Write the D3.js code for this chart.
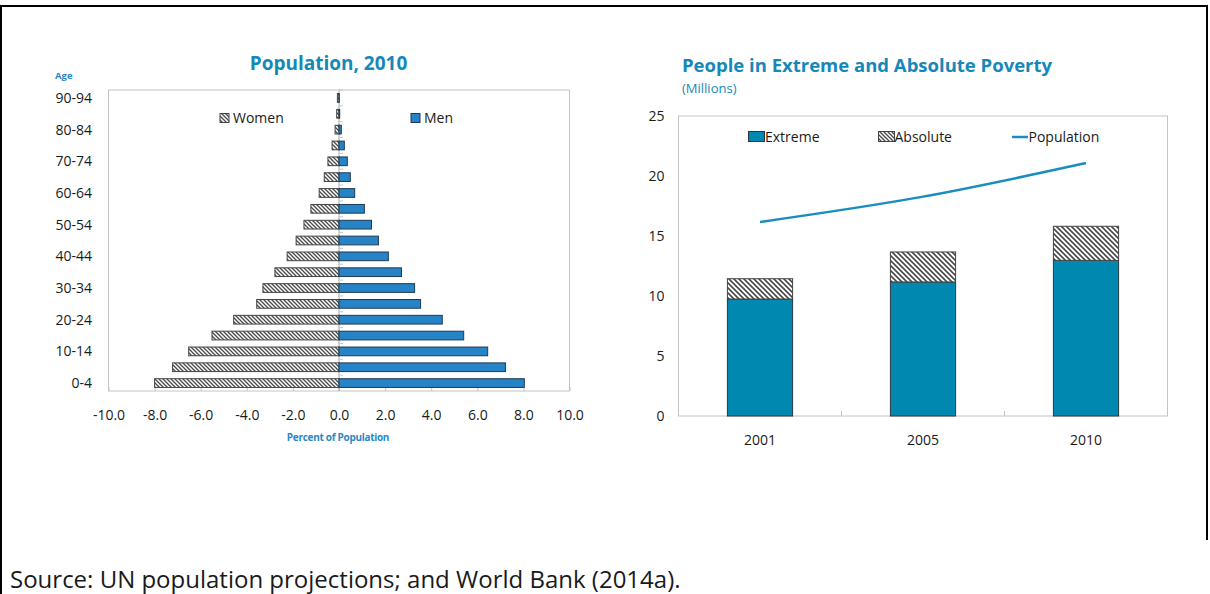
<!DOCTYPE html>
<html>
<head>
<meta charset="utf-8">
<script src="https://cdn.jsdelivr.net/npm/d3@7"></script>
<style>
  html, body { margin: 0; padding: 0; background: #fff; }
  svg { display: block; font-family: "Open Sans", "Noto Sans", sans-serif; }
</style>
</head>
<body>
<svg id="chart" width="1210" height="594"></svg>
<script>
// ---------- Data ----------
const ageGroups = ["0-4","5-9","10-14","15-19","20-24","25-29","30-34","35-39","40-44","45-49",
                   "50-54","55-59","60-64","65-69","70-74","75-79","80-84","85-89","90-94"];
const womenPct = [-8.0,-7.22,-6.52,-5.51,-4.57,-3.57,-3.30,-2.78,-2.25,-1.86,
                  -1.52,-1.22,-0.86,-0.64,-0.48,-0.30,-0.17,-0.10,-0.07];
const menPct   = [8.04,7.22,6.45,5.41,4.48,3.54,3.28,2.71,2.14,1.71,
                  1.41,1.10,0.68,0.49,0.36,0.23,0.10,0.03,0.01];
const ageTickLabels = ["0-4","10-14","20-24","30-34","40-44","50-54","60-64","70-74","80-84","90-94"];
const pctTicks = [-10,-8,-6,-4,-2,0,2,4,6,8,10];

const years = ["2001","2005","2010"];
const extremePoor = [9.75, 11.17, 12.97];
const absolutePoor = [1.69, 2.50, 2.84];   // stacked on top of extreme
const population = [16.17, 18.28, 21.08];
const povTicks = [0,5,10,15,20,25];

// ---------- Styles ----------
const titleBlue = "#1688b8";
const labelBlue = "#2a88c8";
const menBlue = "#2683c6";
const extremeTeal = "#0088b0";
const lineBlue = "#1a8cc0";
const borderGray = "#c4c4c4";
const textCol = "#1a1a1a";

const svg = d3.select("#chart");

// patterns
const defs = svg.append("defs");
function hatch(id, size, sw) {
  const p = defs.append("pattern").attr("id", id).attr("patternUnits", "userSpaceOnUse")
    .attr("width", size).attr("height", size);
  p.append("rect").attr("width", size).attr("height", size).attr("fill", "#fff");
  p.append("path")
    .attr("d", `M0,0 L${size},${size} M${-size/2},${size/2} L${size/2},${size*1.5} M${size/2},${-size/2} L${size*1.5},${size/2}`)
    .attr("stroke", "#4a4a4a").attr("stroke-width", sw);
}
hatch("hatchW", 4, 1.3);
hatch("hatchA", 5, 1.6);

// outer frame
svg.append("path").attr("d", "M1,594 L1,6 L1207,6 L1207,540")
  .attr("fill", "none").attr("stroke", "#000").attr("stroke-width", 2);

// ================= LEFT: Population pyramid =================
const L = { x0: 108.5, x1: 569.5, y0: 90, y1: 391 };
const x = d3.scaleLinear().domain([-10, 10]).range([L.x0, L.x1]);
const y = d3.scaleBand().domain(ageGroups).range([L.y1, L.y0]).paddingInner(0.45).paddingOuter(0.225);
const yStep = d3.scaleBand().domain(ageGroups).range([L.y1, L.y0]);

const gL = svg.append("g");
gL.append("rect").attr("x", L.x0).attr("y", L.y0).attr("width", L.x1 - L.x0).attr("height", L.y1 - L.y0)
  .attr("fill", "none").attr("stroke", borderGray).attr("stroke-width", 1);

// bottom axis ticks (inside, upward)
const xAxis = d3.axisBottom(x).tickValues(pctTicks).tickSize(-4).tickPadding(19)
  .tickFormat(d => d.toFixed(1));
const xa = gL.append("g").attr("transform", `translate(0,${L.y1})`).call(xAxis);
xa.select(".domain").remove();
xa.selectAll(".tick line").attr("stroke", borderGray);
xa.selectAll(".tick text").attr("font-size", 14).attr("fill", textCol).attr("font-family", "Open Sans");

// vertical zero axis with small ticks to the right
gL.append("line").attr("x1", x(0)).attr("x2", x(0)).attr("y1", L.y0).attr("y2", L.y1)
  .attr("stroke", "#a8a8a8").attr("stroke-width", 1);
const bounds = ageGroups.map(a => yStep(a));
gL.selectAll("line.zt").data(bounds).join("line").attr("class", "zt")
  .attr("x1", x(0)).attr("x2", x(0) + 4).attr("y1", d => d).attr("y2", d => d)
  .attr("stroke", "#c8c8c8");

// bars
gL.selectAll("rect.w").data(ageGroups).join("rect").attr("class", "w")
  .attr("x", (d, i) => x(womenPct[i])).attr("width", (d, i) => x(0) - x(womenPct[i]))
  .attr("y", d => y(d)).attr("height", y.bandwidth())
  .attr("fill", "url(#hatchW)").attr("stroke", "#444").attr("stroke-width", 1);
gL.selectAll("rect.m").data(ageGroups).join("rect").attr("class", "m")
  .attr("x", x(0)).attr("width", (d, i) => x(menPct[i]) - x(0))
  .attr("y", d => y(d)).attr("height", y.bandwidth())
  .attr("fill", menBlue).attr("stroke", "#1f3a55").attr("stroke-width", 1);

// age labels
gL.selectAll("text.age").data(ageTickLabels).join("text").attr("class", "age")
  .attr("x", 92).attr("y", d => y(d) + y.bandwidth() / 2).attr("dy", "0.35em")
  .attr("text-anchor", "end").attr("font-size", 14).attr("fill", textCol).text(d => d);

// titles
gL.append("text").attr("x", 328.5).attr("y", 70).attr("text-anchor", "middle")
  .attr("font-size", 19).attr("font-weight", "bold").attr("fill", titleBlue).text("Population, 2010");
gL.append("text").attr("x", 55).attr("y", 79).attr("font-size", 9.5).attr("font-weight", "bold")
  .attr("fill", labelBlue).text("Age");
gL.append("text").attr("x", 338).attr("y", 440.5).attr("text-anchor", "middle").attr("font-size", 10)
  .attr("font-weight", "bold").attr("fill", labelBlue).attr("letter-spacing", -0.3).text("Percent of Population");

// legend
const legL = gL.append("g");
legL.append("rect").attr("x", 220).attr("y", 113.5).attr("width", 9).attr("height", 9)
  .attr("fill", "url(#hatchW)").attr("stroke", "#444");
legL.append("text").attr("x", 233).attr("y", 118).attr("dy", "0.35em").attr("font-size", 14)
  .attr("fill", textCol).text("Women");
legL.append("rect").attr("x", 411).attr("y", 113.5).attr("width", 9).attr("height", 9)
  .attr("fill", menBlue).attr("stroke", "#1f3a55");
legL.append("text").attr("x", 424).attr("y", 118).attr("dy", "0.35em").attr("font-size", 14)
  .attr("fill", textCol).text("Men");

// ================= RIGHT: Poverty =================
const R = { x0: 678.5, x1: 1167.5, y0: 116, y1: 416 };
const xb = d3.scaleBand().domain(years).range([R.x0, R.x1]).paddingInner(0.6).paddingOuter(0.3);
const xStep = d3.scaleBand().domain(years).range([R.x0, R.x1]);
const yr = d3.scaleLinear().domain([0, 25]).range([R.y1, R.y0]);

const gR = svg.append("g");
gR.append("rect").attr("x", R.x0).attr("y", R.y0).attr("width", R.x1 - R.x0).attr("height", R.y1 - R.y0)
  .attr("fill", "none").attr("stroke", borderGray).attr("stroke-width", 1);

// y axis labels
const ya = gR.append("g").attr("transform", `translate(${R.x0},0)`)
  .call(d3.axisLeft(yr).tickValues(povTicks).tickSize(0).tickPadding(14).tickFormat(d3.format("d")));
ya.select(".domain").remove();
ya.selectAll(".tick text").attr("font-size", 14).attr("fill", textCol).attr("font-family", "Open Sans");

// category separators (inside, upward) and labels
gR.selectAll("line.ct").data(years.slice(1)).join("line").attr("class", "ct")
  .attr("x1", d => xStep(d)).attr("x2", d => xStep(d)).attr("y1", R.y1).attr("y2", R.y1 - 5)
  .attr("stroke", borderGray);
gR.selectAll("text.yr").data(years).join("text").attr("class", "yr")
  .attr("x", d => xb(d) + xb.bandwidth() / 2).attr("y", 440).attr("dy", "0.35em")
  .attr("text-anchor", "middle").attr("font-size", 14).attr("fill", textCol).text(d => d);

// stacked bars
gR.selectAll("rect.ex").data(years).join("rect").attr("class", "ex")
  .attr("x", d => xb(d)).attr("width", xb.bandwidth())
  .attr("y", (d, i) => yr(extremePoor[i])).attr("height", (d, i) => yr(0) - yr(extremePoor[i]))
  .attr("fill", extremeTeal).attr("stroke", "#2b3a40").attr("stroke-width", 1);
gR.selectAll("rect.ab").data(years).join("rect").attr("class", "ab")
  .attr("x", d => xb(d)).attr("width", xb.bandwidth())
  .attr("y", (d, i) => yr(extremePoor[i] + absolutePoor[i]))
  .attr("height", (d, i) => yr(extremePoor[i]) - yr(extremePoor[i] + absolutePoor[i]))
  .attr("fill", "url(#hatchA)").attr("stroke", "#444").attr("stroke-width", 1);

// population line
const line = d3.line().x((d, i) => xb(years[i]) + xb.bandwidth() / 2).y(d => yr(d)).curve(d3.curveMonotoneX);
gR.append("path").datum(population).attr("d", line).attr("fill", "none")
  .attr("stroke", lineBlue).attr("stroke-width", 2.5);

// legend
const legR = gR.append("g");
legR.append("rect").attr("x", 748.5).attr("y", 131.5).attr("width", 16).attr("height", 10)
  .attr("fill", extremeTeal).attr("stroke", "#2b3a40");
legR.append("text").attr("x", 765).attr("y", 137).attr("dy", "0.35em").attr("font-size", 14)
  .attr("fill", textCol).text("Extreme");
legR.append("rect").attr("x", 878.5).attr("y", 131.5).attr("width", 16).attr("height", 10)
  .attr("fill", "url(#hatchW)").attr("stroke", "#444");
legR.append("text").attr("x", 894.5).attr("y", 137).attr("dy", "0.35em").attr("font-size", 14)
  .attr("fill", textCol).text("Absolute");
legR.append("line").attr("x1", 1012).attr("x2", 1028).attr("y1", 137).attr("y2", 137)
  .attr("stroke", lineBlue).attr("stroke-width", 2.5);
legR.append("text").attr("x", 1028.5).attr("y", 137).attr("dy", "0.35em").attr("font-size", 14)
  .attr("fill", textCol).text("Population");

// titles
gR.append("text").attr("x", 682).attr("y", 72).attr("font-size", 18.5).attr("font-weight", "bold")
  .attr("fill", titleBlue).text("People in Extreme and Absolute Poverty");
gR.append("text").attr("x", 682).attr("y", 93).attr("font-size", 13).attr("fill", titleBlue)
  .text("(Millions)");

// source
svg.append("text").attr("x", 10).attr("y", 588).attr("font-size", 24).attr("fill", textCol)
  .text("Source: UN population projections; and World Bank (2014a).");
</script>
</body>
</html>
